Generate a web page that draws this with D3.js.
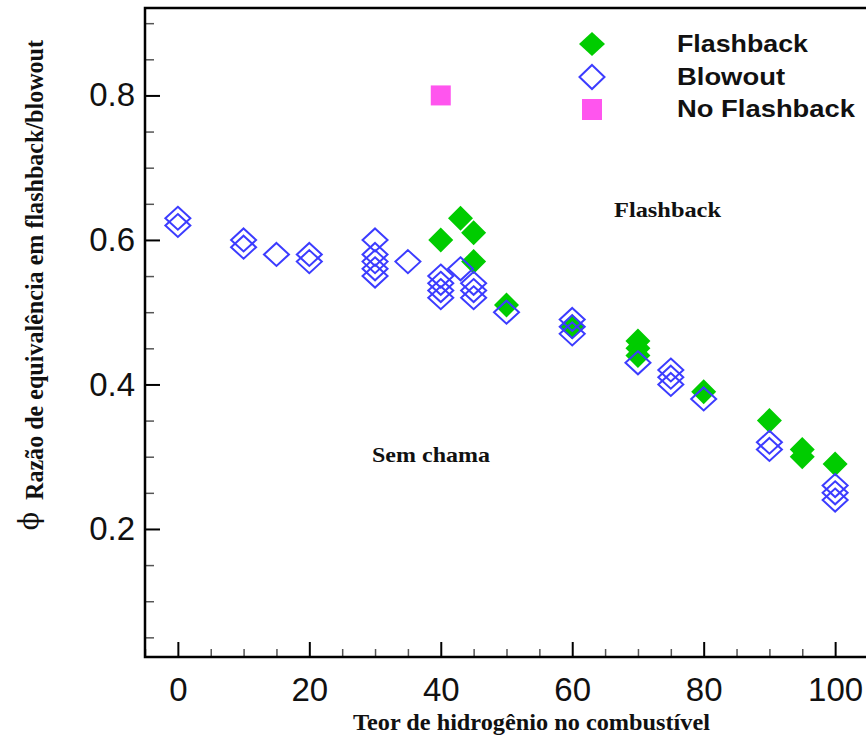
<!DOCTYPE html>
<html lang="pt">
<head>
<meta charset="UTF-8">
<title>Flashback / Blowout</title>
<script src="https://d3js.org/d3.v7.min.js"></script>
<style>
  body { margin: 0; background: #fff; }
  .tick text { font-family: "Liberation Sans", Arial, sans-serif; font-size: 33px; fill: #111; }
  .serif { font-family: "Liberation Serif", "Times New Roman", serif; font-weight: bold; fill: #111; }
  .leg { font-family: "Liberation Sans", Arial, sans-serif; font-weight: bold; font-size: 24px; fill: #111; }
</style>
</head>
<body>
<div id="chart"></div>
<script>
// Blowout (open blue diamonds)
const blowoutX = [0, 0, 10, 10, 15, 20, 20, 30, 30, 30, 30, 30, 35, 40, 40, 40, 40, 43, 45, 45, 45, 50,
                  60, 60, 60, 70, 75, 75, 75, 80, 90, 90, 100, 100, 100];
const blowoutY = [0.63, 0.62, 0.60, 0.59, 0.58, 0.58, 0.57, 0.60, 0.58, 0.57, 0.56, 0.55, 0.57, 0.55, 0.54, 0.53, 0.52, 0.56, 0.54, 0.53, 0.52, 0.50,
                  0.49, 0.48, 0.47, 0.43, 0.42, 0.41, 0.40, 0.38, 0.32, 0.31, 0.26, 0.25, 0.24];
// Flashback (filled green diamonds)
const flashX = [40, 43, 45, 45, 50, 60, 70, 70, 70, 80, 90, 95, 95, 100];
const flashY = [0.60, 0.63, 0.61, 0.57, 0.51, 0.48, 0.46, 0.45, 0.44, 0.39, 0.35, 0.31, 0.30, 0.29];
// No Flashback (pink square)
const noFlashX = [40];
const noFlashY = [0.80];

const xMajor = [0, 20, 40, 60, 80, 100];
const xMinor = d3.range(-5, 106, 5).filter(v => v % 20 !== 0);
const yMajor = [0.2, 0.4, 0.6, 0.8];
const yMinor = [0.05, 0.1, 0.15, 0.25, 0.3, 0.35, 0.45, 0.5, 0.55, 0.65, 0.7, 0.75, 0.85, 0.9];

const legendNames = ["Flashback", "Blowout", "No Flashback"];

const W = 866, H = 735;
const svg = d3.select("#chart").append("svg")
    .attr("width", W).attr("height", H);

const x = d3.scaleLinear().domain([-5, 105]).range([145, 868]);
const y = d3.scaleLinear().domain([0.0228, 0.921]).range([657, 8]);

const green = "#00cc00", blue = "#3c3cff", pink = "#ff55ee";

// minor ticks
svg.append("g")
    .attr("transform", `translate(0,${y.range()[0]})`)
    .call(d3.axisBottom(x).tickValues(xMinor).tickSize(-8).tickFormat("").tickSizeOuter(0))
    .call(g => g.select(".domain").remove())
    .call(g => g.selectAll("line").attr("stroke", "#555").attr("stroke-width", 1.5));
svg.append("g")
    .attr("transform", `translate(${x.range()[0]},0)`)
    .call(d3.axisLeft(y).tickValues(yMinor).tickSize(-9).tickFormat("").tickSizeOuter(0))
    .call(g => g.select(".domain").remove())
    .call(g => g.selectAll("line").attr("stroke", "#555").attr("stroke-width", 1.5));

// major ticks
svg.append("g")
    .attr("transform", `translate(0,${y.range()[0]})`)
    .call(d3.axisBottom(x).tickValues(xMajor).tickSize(-15).tickPadding(21).tickSizeOuter(0))
    .call(g => g.select(".domain").remove())
    .call(g => g.selectAll("line").attr("stroke", "#000").attr("stroke-width", 2));
svg.append("g")
    .attr("transform", `translate(${x.range()[0]},0)`)
    .call(d3.axisLeft(y).tickValues(yMajor).tickSize(-15).tickPadding(10).tickFormat(d3.format(".1f")).tickSizeOuter(0))
    .call(g => g.select(".domain").remove())
    .call(g => g.selectAll("line").attr("stroke", "#000").attr("stroke-width", 2));

// frame
const [x0, x1] = x.range(), [yb, yt] = y.range();
svg.append("path")
    .attr("d", `M${x1},${yb}H${x0}V${yt}H${x1}`)
    .attr("fill", "none").attr("stroke", "#000").attr("stroke-width", 2.5);

// markers
const diamond = (hw, hh) => `M0,${-hh}L${hw},0L0,${hh}L${-hw},0Z`;

svg.append("g").selectAll("path")
    .data(flashX.map((v, i) => [v, flashY[i]]))
    .join("path")
    .attr("transform", d => `translate(${x(d[0])},${y(d[1])})`)
    .attr("d", diamond(12.5, 12.5))
    .attr("fill", green);

svg.append("g").selectAll("path")
    .data(blowoutX.map((v, i) => [v, blowoutY[i]]))
    .join("path")
    .attr("transform", d => `translate(${x(d[0])},${y(d[1])})`)
    .attr("d", diamond(12.5, 11.5))
    .attr("fill", "none").attr("stroke", blue).attr("stroke-width", 2);

svg.append("g").selectAll("rect")
    .data(noFlashX.map((v, i) => [v, noFlashY[i]]))
    .join("rect")
    .attr("x", d => x(d[0]) - 10).attr("y", d => y(d[1]) - 10)
    .attr("width", 20).attr("height", 20)
    .attr("fill", pink);

// legend
const leg = svg.append("g");
const legY = [44, 77, 109];
leg.append("path").attr("transform", `translate(592,${legY[0]})`).attr("d", diamond(13, 12)).attr("fill", green);
leg.append("path").attr("transform", `translate(592,${legY[1]})`).attr("d", diamond(12.5, 12)).attr("fill", "none").attr("stroke", blue).attr("stroke-width", 2);
leg.append("rect").attr("x", 582).attr("y", legY[2] - 10).attr("width", 20).attr("height", 21).attr("fill", pink);
const legW = [131, 108, 178];
leg.selectAll("text").data(legendNames).join("text")
    .attr("class", "leg")
    .attr("x", 677).attr("y", (d, i) => legY[i] + 8)
    .attr("textLength", (d, i) => legW[i]).attr("lengthAdjust", "spacingAndGlyphs")
    .text(d => d);

// region labels
svg.append("text").attr("class", "serif").attr("x", 614).attr("y", 217)
    .attr("font-size", 21).attr("textLength", 107).attr("lengthAdjust", "spacingAndGlyphs").text("Flashback");
svg.append("text").attr("class", "serif").attr("x", 372).attr("y", 462)
    .attr("font-size", 21).attr("textLength", 118).attr("lengthAdjust", "spacingAndGlyphs").text("Sem chama");

// axis titles
svg.append("text").attr("class", "serif").attr("x", 353).attr("y", 730)
    .attr("font-size", 23).attr("textLength", 357).attr("lengthAdjust", "spacingAndGlyphs")
    .text("Teor de hidrogênio no combustível");

svg.append("text").attr("class", "serif")
    .attr("transform", "translate(43,500) rotate(-90)")
    .attr("font-size", 26).attr("textLength", 460).attr("lengthAdjust", "spacingAndGlyphs")
    .text("Razão de equivalência em flashback/blowout");
svg.append("text")
    .attr("transform", "translate(38,521) rotate(-90)")
    .attr("text-anchor", "middle")
    .style("font-family", "\"DejaVu Serif\", serif").style("font-size", "27px").style("fill", "#111")
    .text("ϕ");
</script>
</body>
</html>
